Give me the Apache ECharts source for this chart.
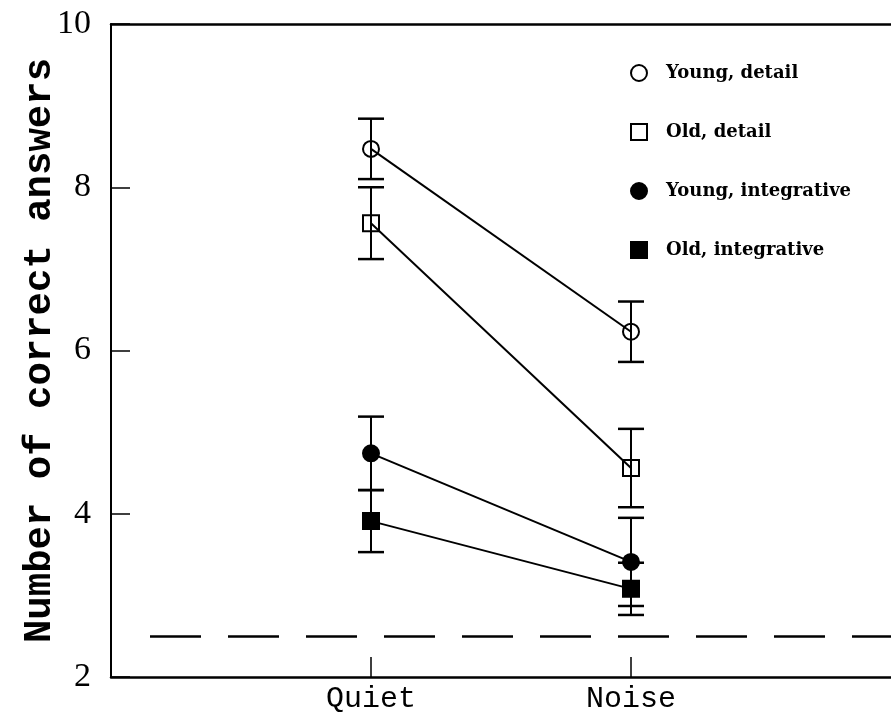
<!DOCTYPE html>
<html>
<head>
<meta charset="utf-8">
<script src="https://cdn.jsdelivr.net/npm/echarts@6/dist/echarts.min.js"></script>
<style>
html,body{margin:0;padding:0;background:#fff;}
#chart{width:891px;height:727px;}
</style>
</head>
<body>
<div id="chart"></div>
<script>
// ---- data ----
var conditions = ['Quiet', 'Noise'];
var conditionX = [1, 2];
var seriesNames = ['Young, detail', 'Old, detail', 'Young, integrative', 'Old, integrative'];
var youngDetail = [8.47, 6.23];
var youngDetailErr = [0.37, 0.37];
var oldDetail = [7.56, 4.56];
var oldDetailErr = [0.44, 0.48];
var youngInteg = [4.74, 3.41];
var youngIntegErr = [0.45, 0.54];
var oldInteg = [3.91, 3.08];
var oldIntegErr = [0.38, 0.32];
var chanceLevel = 2.5;
var chanceStartX = 0.15;
var yTicks = [2, 4, 6, 8, 10];

var means = [youngDetail, oldDetail, youngInteg, oldInteg];
var errs = [youngDetailErr, oldDetailErr, youngIntegErr, oldIntegErr];
var symbols = ['circle', 'rect', 'circle', 'rect'];
var fills = ['rgba(0,0,0,0)', 'rgba(0,0,0,0)', '#000', '#000'];

var chart = echarts.init(document.getElementById('chart'));

var series = [];
var errData = [];
means.forEach(function (m, i) {
  series.push({
    name: seriesNames[i],
    type: 'line',
    data: conditionX.map(function (x, j) { return [x, m[j]]; }),
    symbol: symbols[i],
    symbolSize: 16,
    lineStyle: { color: '#000', width: 2 },
    itemStyle: { color: fills[i], borderColor: '#000', borderWidth: 2 },
    z: 3,
    animation: false
  });
  conditionX.forEach(function (x, j) {
    errData.push([x, m[j] - errs[i][j], m[j] + errs[i][j]]);
  });
});

series.push({
  type: 'custom',
  data: errData,
  z: 4,
  silent: true,
  animation: false,
  renderItem: function (params, api) {
    var x = api.value(0);
    var lo = api.coord([x, api.value(1)]);
    var hi = api.coord([x, api.value(2)]);
    var hw = 13;
    return {
      type: 'group',
      children: [
        { type: 'line', shape: { x1: lo[0], y1: lo[1], x2: hi[0], y2: hi[1] }, style: { stroke: '#000', lineWidth: 2 } },
        { type: 'line', shape: { x1: lo[0] - hw, y1: lo[1], x2: lo[0] + hw, y2: lo[1] }, style: { stroke: '#000', lineWidth: 2.5 } },
        { type: 'line', shape: { x1: hi[0] - hw, y1: hi[1], x2: hi[0] + hw, y2: hi[1] }, style: { stroke: '#000', lineWidth: 2.5 } }
      ]
    };
  }
});

series.push({
  type: 'line',
  data: [],
  silent: true,
  markLine: {
    silent: true,
    symbol: 'none',
    animation: false,
    label: { show: false },
    lineStyle: { color: '#000', width: 2.5, type: [51, 27] },
    data: [[{ coord: [chanceStartX, chanceLevel] }, { coord: [3, chanceLevel] }]]
  }
});

var option = {
  backgroundColor: '#fff',
  animation: false,
  grid: { left: 111, right: 0, top: 24, bottom: 50 },
  legend: {
    orient: 'vertical',
    left: 625,
    top: 59,
    itemWidth: 16,
    itemHeight: 16,
    itemGap: 41,
    selectedMode: false,
    textStyle: { fontFamily: 'DejaVu Serif', fontWeight: 'bold', fontSize: 18, color: '#000', lineHeight: 16, padding: [0, 0, 0, 14] },
    data: seriesNames.map(function (n, i) {
      return {
        name: n,
        icon: symbols[i],
        itemStyle: { color: fills[i], borderColor: '#000', borderWidth: 2 }
      };
    })
  },
  xAxis: [{
    type: 'value',
    min: 0,
    max: 3,
    interval: 1,
    splitLine: { show: false },
    axisLine: { show: true, lineStyle: { color: '#000', width: 2.5 } },
    axisTick: { show: true, inside: true, length: 20, customValues: conditionX, lineStyle: { color: '#000', width: 1.5 } },
    axisLabel: {
      customValues: conditionX,
      margin: 7,
      fontFamily: 'Liberation Mono',
      fontSize: 30,
      color: '#000',
      formatter: function (v) {
        var k = conditionX.indexOf(v);
        return k >= 0 ? conditions[k] : '';
      }
    }
  }, {
    type: 'value',
    position: 'top',
    min: 0,
    max: 3,
    axisLine: { show: true, onZero: false, lineStyle: { color: '#000', width: 2.5 } },
    axisTick: { show: false },
    axisLabel: { show: false },
    splitLine: { show: false }
  }],
  yAxis: {
    type: 'value',
    min: 2,
    max: 10,
    interval: 2,
    name: 'Number of correct answers',
    nameLocation: 'middle',
    nameGap: 51,
    nameMoveOverlap: false,
    nameTextStyle: { fontFamily: 'Liberation Mono', fontWeight: 'bold', fontSize: 39, color: '#000' },
    splitLine: { show: false },
    axisLine: { show: true, lineStyle: { color: '#000', width: 2 } },
    axisTick: { show: true, inside: true, length: 19, lineStyle: { color: '#000', width: 1.5 } },
    axisLabel: { margin: 20, fontFamily: 'Liberation Serif', fontSize: 34, color: '#000' }
  },
  series: series
};

chart.setOption(option);
</script>
</body>
</html>
